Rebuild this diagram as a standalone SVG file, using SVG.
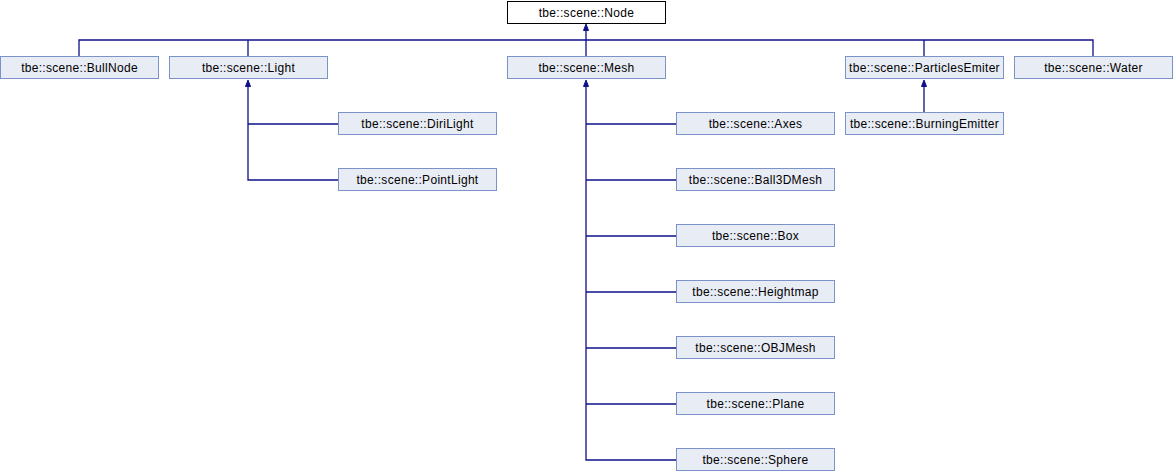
<svg xmlns="http://www.w3.org/2000/svg" width="1173" height="472" viewBox="0 0 1173 472">
<style>
.n rect{fill:#e8ecf5;stroke:#7a93c9;stroke-width:1}
.r rect{fill:#ffffff;stroke:#000000;stroke-width:1}
text{font-family:"Liberation Sans",Arial,sans-serif;font-size:12px;letter-spacing:0.3px;fill:#000;text-anchor:middle}
.e path{fill:none;stroke:#0f0f8a;stroke-width:1.3}
.e polygon{fill:#0f0f8a;stroke:#0f0f8a;stroke-width:1}
</style>
<rect width="1173" height="472" fill="#ffffff"/>
<g class="e" id="connectors">
<path d="M586,30V40M79,57V40H1093V57M248,40V57M586,40V57M924,40V57"/>
<polygon points="586,24 583.5,30.5 588.5,30.5"/>
<path d="M248,86V180H338M248,124H338"/>
<polygon points="248,80 245.5,86.5 250.5,86.5"/>
<path d="M586,86V460H676M586,124H676M586,180H676M586,236H676M586,292H676M586,348H676M586,404H676"/>
<polygon points="586,80 583.5,86.5 588.5,86.5"/>
<path d="M924,86V113"/>
<polygon points="924,80 921.5,86.5 926.5,86.5"/>
</g>
<g class="r" id="node-Node"><rect x="507.5" y="1.5" width="158" height="22"/><text x="586.5" y="17">tbe::scene::Node</text></g>
<g class="n" id="node-BullNode"><rect x="0.5" y="56.5" width="158" height="22"/><text x="79.5" y="72">tbe::scene::BullNode</text></g>
<g class="n" id="node-Light"><rect x="169.5" y="56.5" width="158" height="22"/><text x="248.5" y="72">tbe::scene::Light</text></g>
<g class="n" id="node-Mesh"><rect x="507.5" y="56.5" width="158" height="22"/><text x="586.5" y="72">tbe::scene::Mesh</text></g>
<g class="n" id="node-ParticlesEmiter"><rect x="845.5" y="56.5" width="158" height="22"/><text x="924.5" y="72">tbe::scene::ParticlesEmiter</text></g>
<g class="n" id="node-Water"><rect x="1014.5" y="56.5" width="158" height="22"/><text x="1093.5" y="72">tbe::scene::Water</text></g>
<g class="n" id="node-DiriLight"><rect x="338.5" y="112.5" width="158" height="22"/><text x="417.5" y="128">tbe::scene::DiriLight</text></g>
<g class="n" id="node-PointLight"><rect x="338.5" y="168.5" width="158" height="22"/><text x="417.5" y="184">tbe::scene::PointLight</text></g>
<g class="n" id="node-BurningEmitter"><rect x="845.5" y="112.5" width="158" height="22"/><text x="924.5" y="128">tbe::scene::BurningEmitter</text></g>
<g class="n" id="node-Axes"><rect x="676.5" y="112.5" width="158" height="22"/><text x="755.5" y="128">tbe::scene::Axes</text></g>
<g class="n" id="node-Ball3DMesh"><rect x="676.5" y="168.5" width="158" height="22"/><text x="755.5" y="184">tbe::scene::Ball3DMesh</text></g>
<g class="n" id="node-Box"><rect x="676.5" y="224.5" width="158" height="22"/><text x="755.5" y="240">tbe::scene::Box</text></g>
<g class="n" id="node-Heightmap"><rect x="676.5" y="280.5" width="158" height="22"/><text x="755.5" y="296">tbe::scene::Heightmap</text></g>
<g class="n" id="node-OBJMesh"><rect x="676.5" y="336.5" width="158" height="22"/><text x="755.5" y="352">tbe::scene::OBJMesh</text></g>
<g class="n" id="node-Plane"><rect x="676.5" y="392.5" width="158" height="22"/><text x="755.5" y="408">tbe::scene::Plane</text></g>
<g class="n" id="node-Sphere"><rect x="676.5" y="448.5" width="158" height="22"/><text x="755.5" y="464">tbe::scene::Sphere</text></g>
</svg>
